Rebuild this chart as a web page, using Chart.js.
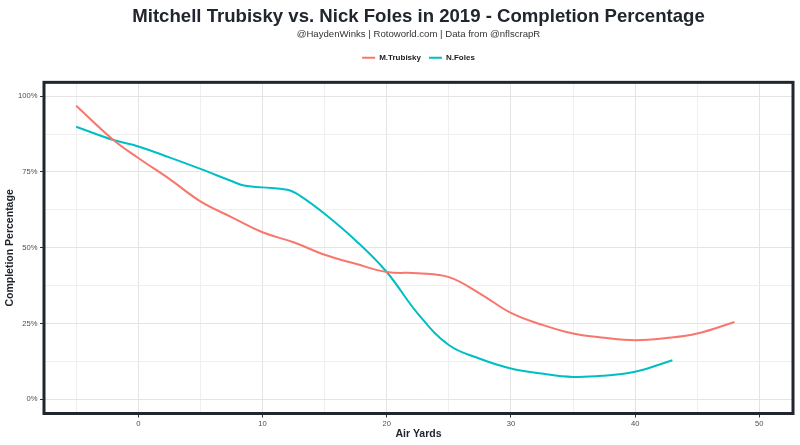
<!DOCTYPE html>
<html>
<head>
<meta charset="utf-8">
<script src="https://cdn.jsdelivr.net/npm/chart.js@4"></script>
<style>
  html, body { margin: 0; padding: 0; background: #fff; }
  #wrap { width: 800px; height: 445px; }
</style>
</head>
<body>
<div id="wrap"><canvas id="chart" width="800" height="445"></canvas></div>
<script>
// Completion % vs air yards (smoothed curves)
const trubiskyYards = [-5, -2, 0, 2.5, 5, 7.5, 10, 12.5, 15, 17.5, 20, 22.5, 25, 27.5, 30, 32.5, 35, 37.5, 40, 42.5, 45, 48];
const trubiskyPct   = [96.8, 85.5, 79.6, 72.7, 65.3, 60.1, 55.1, 51.8, 47.7, 44.7, 42.0, 41.6, 40.3, 34.9, 28.5, 24.6, 21.7, 20.3, 19.5, 20.2, 21.7, 25.5];

const folesYards = [-5, -2, 0, 2.5, 5, 7.5, 8.5, 10, 12, 13, 15, 17.5, 20, 22.5, 25, 27.5, 30, 32.5, 35, 37.5, 40, 43];
const folesPct   = [89.9, 85.5, 83.4, 79.8, 76.0, 72.0, 70.5, 69.9, 69.1, 67.2, 61.2, 52.4, 42.0, 28.3, 17.9, 13.4, 10.2, 8.5, 7.4, 7.8, 9.1, 12.9];

const RED = '#F8766D';
const TEAL = '#00BFC4';
const INK = '#20252e';
const FONT = "'Liberation Sans', Arial, sans-serif";

const pts = (xs, ys) => xs.map((x, i) => ({ x, y: ys[i] }));

// dark frame around the panel
const panelBorder = {
  id: 'panelBorder',
  afterDraw(chart) {
    const { ctx, chartArea: a } = chart;
    ctx.save();
    ctx.strokeStyle = INK;
    ctx.lineWidth = 3;
    ctx.strokeRect(a.left, a.top, a.right - a.left, a.bottom - a.top);
    ctx.restore();
  }
};

const isMajorX = (v) => v % 10 === 0;
const isMajorY = (v) => v % 25 === 0;

new Chart(document.getElementById('chart').getContext('2d'), {
  type: 'line',
  data: {
    datasets: [
      { label: 'M.Trubisky', data: pts(trubiskyYards, trubiskyPct), xAxisID: 'x', yAxisID: 'y', borderColor: RED, backgroundColor: RED, borderWidth: 2, pointRadius: 0, tension: 0.4, fill: false },
      { label: 'N.Foles', data: pts(folesYards, folesPct), xAxisID: 'x', yAxisID: 'y', borderColor: TEAL, backgroundColor: TEAL, borderWidth: 2, pointRadius: 0, tension: 0.4, fill: false }
    ]
  },
  options: {
    responsive: false,
    animation: false,
    layout: { padding: { top: 0, right: 7, bottom: 0, left: 0 } },
    plugins: {
      title: {
        display: true, fullSize: false,
        text: 'Mitchell Trubisky vs. Nick Foles in 2019 - Completion Percentage',
        color: INK, font: { family: FONT, size: 18.6, weight: 'bold' },
        padding: { top: 6, bottom: 0 }
      },
      subtitle: {
        display: true, fullSize: false,
        text: '@HaydenWinks | Rotoworld.com | Data from @nflscrapR',
        color: '#333', font: { family: FONT, size: 9.6 },
        padding: { top: 0, bottom: 6 }
      },
      legend: {
        display: true, fullSize: false, position: 'top',
        labels: {
          color: '#222', font: { family: FONT, size: 8, weight: 'bold' },
          boxWidth: 13, boxHeight: 2, padding: 8,
          generateLabels: (chart) => Chart.defaults.plugins.legend.labels.generateLabels(chart).map(l => ({ ...l, lineWidth: 0 }))
        }
      },
      tooltip: { enabled: false }
    },
    scales: {
      x: {
        type: 'linear', min: -7.59, max: 52.71,
        afterFit: (s) => { s.height = 31.5; },
        border: { display: false },
        grid: {
          color: (c) => isMajorX(c.tick.value) ? '#e4e4e4' : '#efefef',
          lineWidth: 1,
          tickLength: 4,
          tickColor: (c) => isMajorX(c.tick.value) ? '#333' : 'rgba(0,0,0,0)'
        },
        ticks: {
          stepSize: 5, includeBounds: false, maxRotation: 0, autoSkip: false, padding: 1.5,
          color: '#4d4d4d', font: { family: FONT, size: 7.6 },
          callback: (v) => isMajorX(v) ? String(v) : ''
        },
        title: {
          display: true, text: 'Air Yards', color: INK,
          font: { family: FONT, size: 10.5, weight: 'bold' },
          padding: { top: 0, bottom: 4.5 }
        }
      },
      // empty axis used only as a gap between legend and panel
      gap: {
        type: 'linear', position: 'top', axis: 'x',
        afterFit: (s) => { s.height = 10.5; },
        border: { display: false },
        grid: { display: false },
        ticks: { display: false }
      },
      y: {
        min: -4.67, max: 104.54,
        afterFit: (s) => { s.width = 44; },
        border: { display: false },
        grid: {
          color: (c) => isMajorY(c.tick.value) ? '#e4e4e4' : '#efefef',
          lineWidth: 1,
          tickLength: 4,
          tickColor: (c) => isMajorY(c.tick.value) ? '#333' : 'rgba(0,0,0,0)'
        },
        ticks: {
          stepSize: 12.5, includeBounds: false, autoSkip: false, padding: 2.5,
          color: '#4d4d4d', font: { family: FONT, size: 7.6 },
          callback: (v) => isMajorY(v) ? v + '%' : ''
        },
        title: {
          display: true, text: 'Completion Percentage', color: INK,
          font: { family: FONT, size: 10.5, weight: 'bold' },
          padding: { top: 4, bottom: 0 }
        }
      }
    }
  },
  plugins: [panelBorder]
});
</script>
</body>
</html>
